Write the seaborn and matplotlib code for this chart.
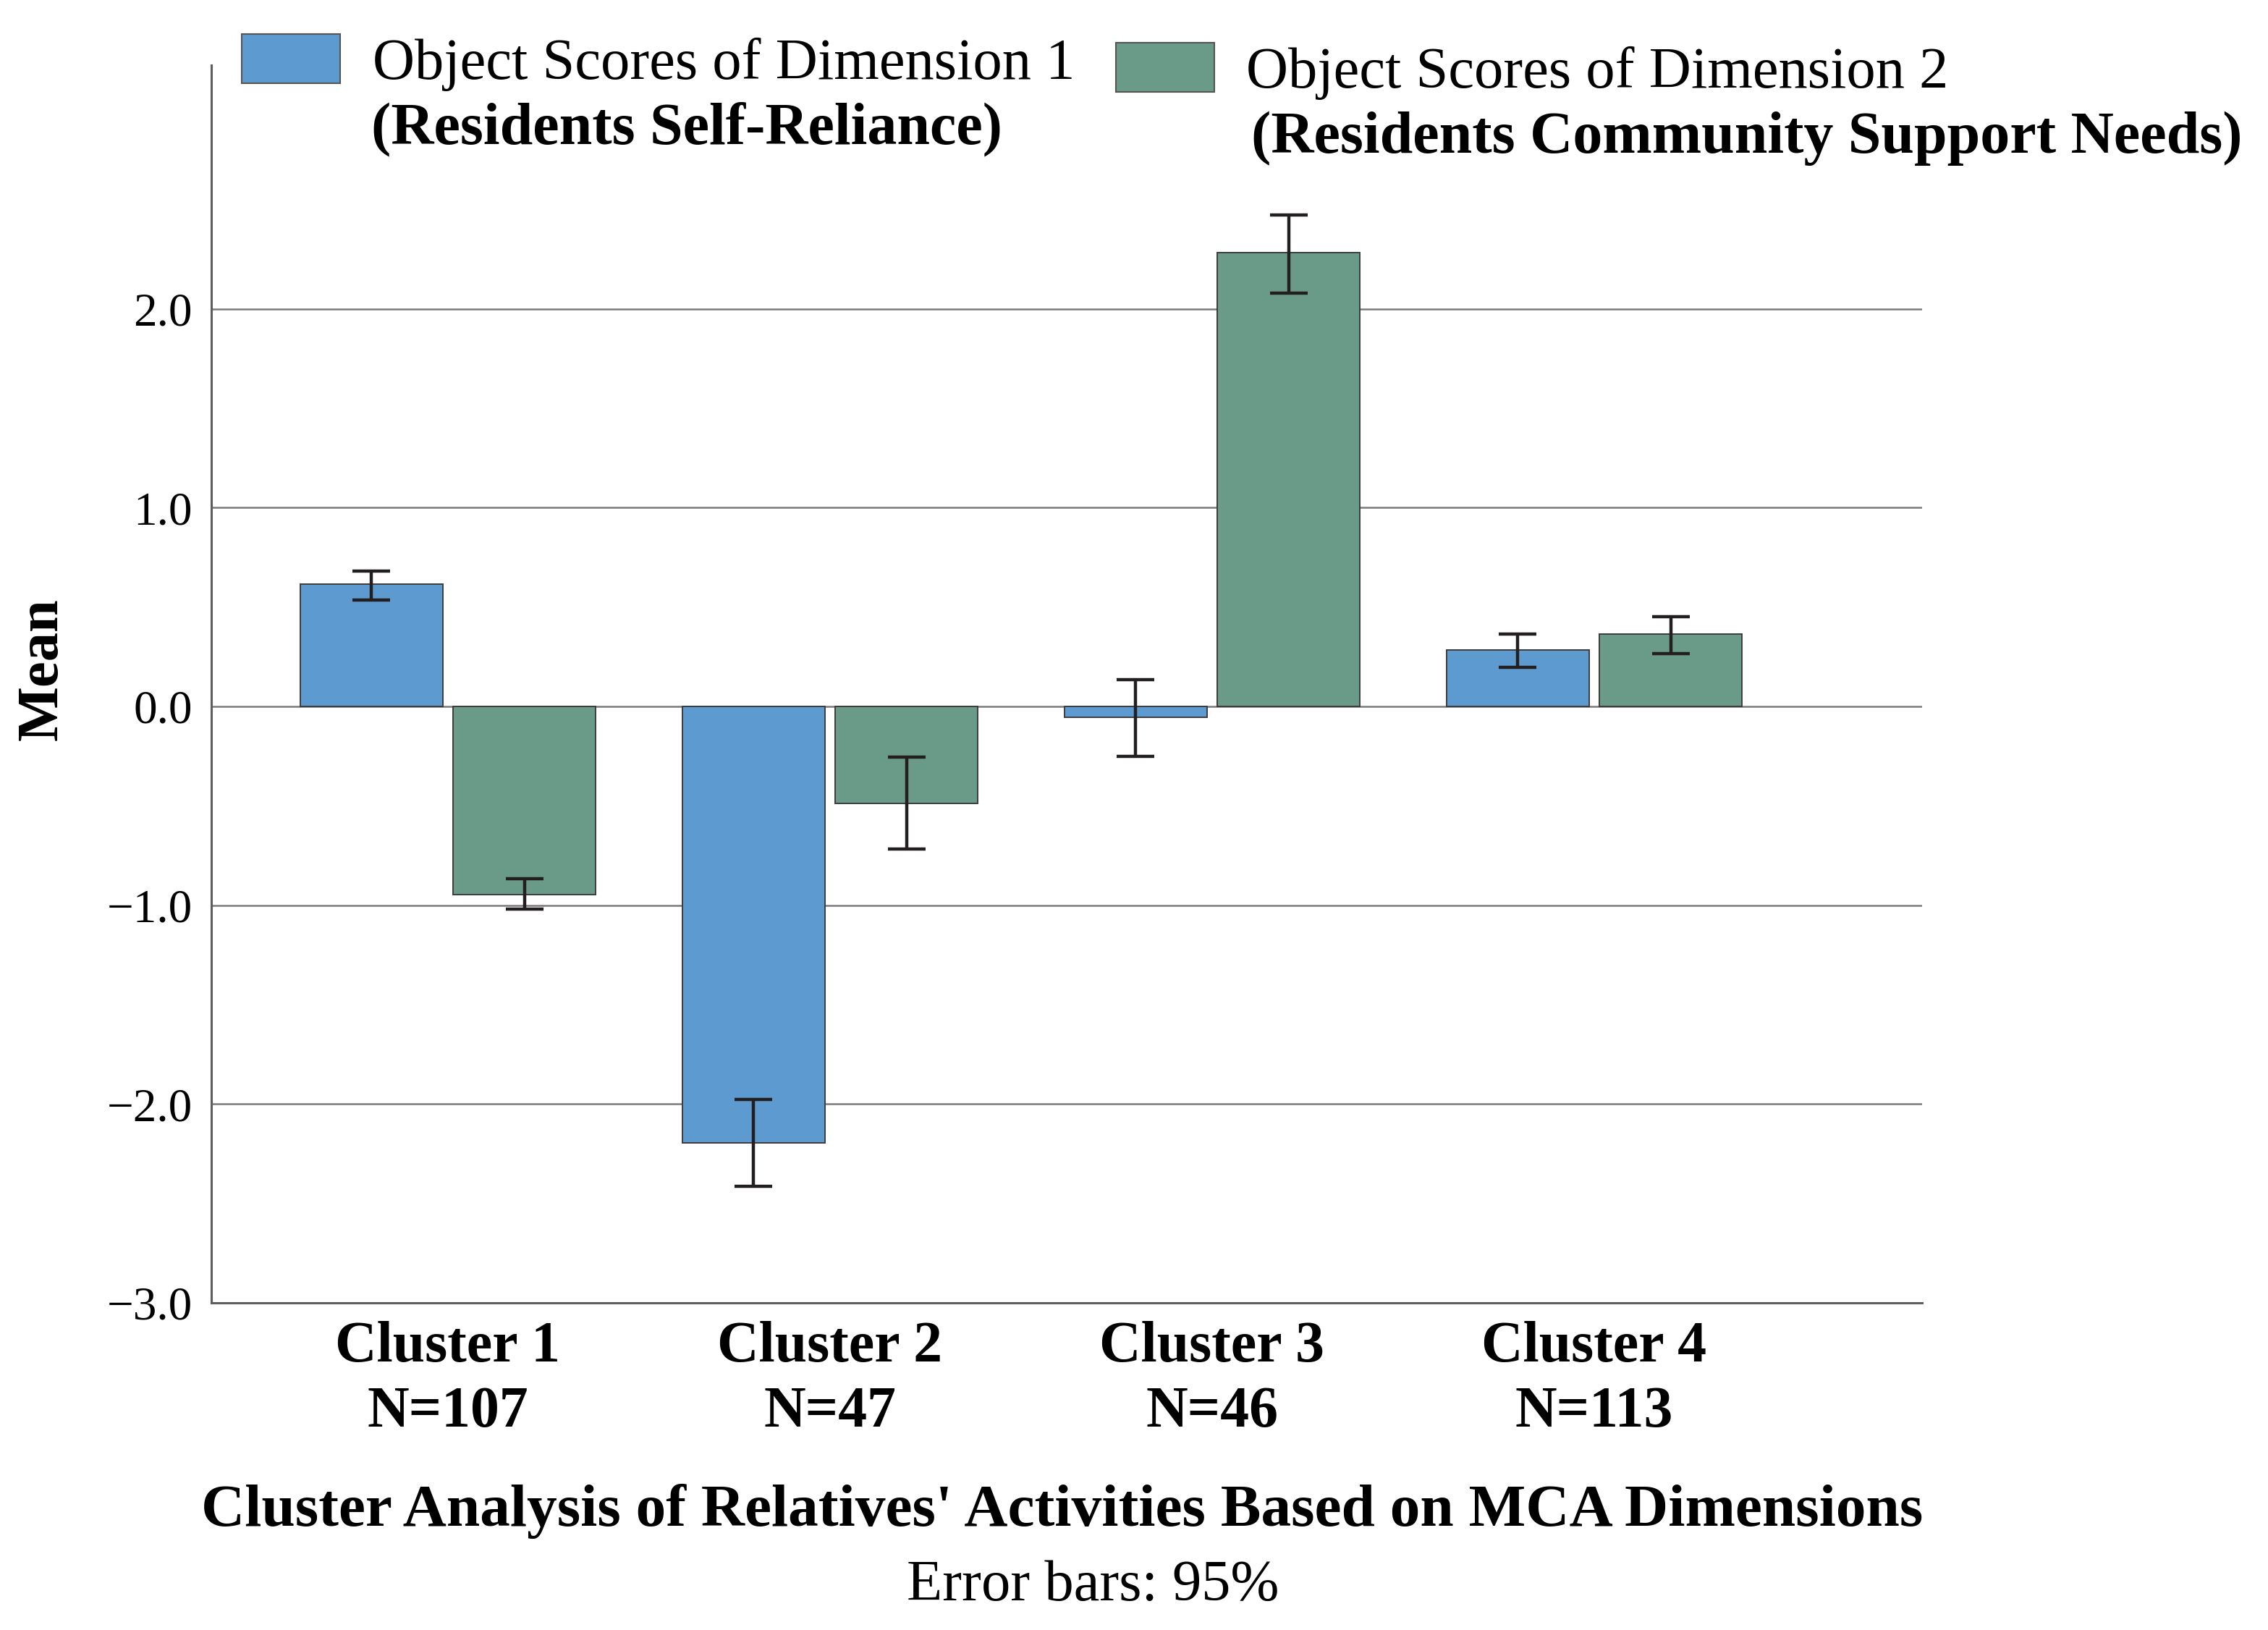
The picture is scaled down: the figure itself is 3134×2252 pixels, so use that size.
import matplotlib
matplotlib.use("Agg")
import matplotlib.pyplot as plt
import seaborn as sns
import pandas as pd
from matplotlib.patches import Patch
from matplotlib.container import BarContainer

# ---------------- data ----------------
clusters = ["Cluster 1", "Cluster 2", "Cluster 3", "Cluster 4"]
cluster_n = ["N=107", "N=47", "N=46", "N=113"]
series = ["Object Scores of Dimension 1", "Object Scores of Dimension 2"]
series_sub = ["(Residents Self-Reliance)", "(Residents Community Support Needs)"]

dim1_mean = [0.615, -2.195, -0.055, 0.284]
dim1_low = [0.536, -2.414, -0.253, 0.197]
dim1_high = [0.680, -1.976, 0.136, 0.364]

dim2_mean = [-0.948, -0.487, 2.283, 0.364]
dim2_low = [-1.020, -0.716, 2.077, 0.264]
dim2_high = [-0.867, -0.255, 2.470, 0.452]

yticks = [-3.0, -2.0, -1.0, 0.0, 1.0, 2.0]
title = "Cluster Analysis of Relatives' Activities Based on MCA Dimensions"
subtitle = "Error bars: 95%"
ylabel = "Mean"

colors = ["#5c9ad0", "#6a9a88"]

# ---------------- table ----------------
labels = [f"{c}\n{n}" for c, n in zip(clusters, cluster_n)]
means = [dim1_mean, dim2_mean]
lows = [dim1_low, dim2_low]
highs = [dim1_high, dim2_high]
rows = []
for s, m in zip(series, means):
    for lab, v in zip(labels, m):
        rows.append({"label": lab, "series": s, "mean": v})
df = pd.DataFrame(rows)

# ---------------- style ----------------
sns.set_style("white")
plt.rcParams["font.family"] = ["Liberation Serif", "DejaVu Serif"]
plt.rcParams["axes.unicode_minus"] = True
for key in ["text.color", "axes.labelcolor", "xtick.color", "ytick.color"]:
    plt.rcParams[key] = "black"

fig = plt.figure(figsize=(31.34, 22.52), dpi=100)
ax = fig.add_axes([0.0932, 0.2007, 0.7543, 0.7593])

sns.barplot(data=df, x="label", y="mean", hue="series", order=labels,
            hue_order=series, palette=colors, saturation=1, width=0.8, gap=0.07,
            errorbar=None, edgecolor="#3c3c3c", linewidth=1.4,
            legend=False, ax=ax, zorder=3)

bar_conts = [c for c in ax.containers if isinstance(c, BarContainer)]
for i, cont in enumerate(bar_conts):
    xs = [b.get_x() + b.get_width() / 2 for b in cont]
    m = means[i]
    yerr = [[mv - lv for mv, lv in zip(m, lows[i])],
            [hv - mv for mv, hv in zip(m, highs[i])]]
    ax.errorbar(xs, m, yerr=yerr, fmt="none", ecolor="#231f20",
                elinewidth=3.2, capsize=19, capthick=3.2, zorder=5)

ax.set_xlim(-0.619, 3.858)
ax.set_ylim(-3.0, 3.225)
ax.set_yticks(yticks, labels=[f"{v:.1f}".replace("-", "\u2212") for v in yticks])
ax.set_xticks(range(len(labels)))
ax.set_xticklabels(labels, fontsize=57.5, fontweight="bold", linespacing=1.3)
ax.tick_params(axis="y", length=0, pad=19, labelsize=47)
ax.tick_params(axis="x", length=0, pad=18)
ax.set_xlabel("")
ax.set_ylabel(ylabel, fontsize=58, fontweight="bold")
ax.yaxis.set_label_coords(-0.083, 0.512)

ax.set_axisbelow(True)
ax.yaxis.grid(True, color="#7a7a7a", linewidth=1.8)
ax.xaxis.grid(False)
for side in ["top", "right"]:
    ax.spines[side].set_visible(False)
for side in ["left", "bottom"]:
    ax.spines[side].set_color("#5e5e5e")
    ax.spines[side].set_linewidth(2.2)
    ax.spines[side].set_zorder(6)

# ---------------- legend ----------------
legend_pos = [(0.1066, 0.9618), (0.492, 0.9564)]
sub_pos = [(0.1638, 0.9205), (0.5518, 0.9150)]
for i, (lx, ly) in enumerate(legend_pos):
    leg = fig.legend(handles=[Patch(facecolor=colors[i], edgecolor="#555555", linewidth=1.5)],
                     labels=[series[i]], loc="center left", bbox_to_anchor=(lx, ly),
                     bbox_transform=fig.transFigure, frameon=False, borderpad=0,
                     borderaxespad=0, handlelength=1.69, handleheight=0.93,
                     handletextpad=0.55, fontsize=58)
    fig.text(sub_pos[i][0], sub_pos[i][1], series_sub[i], ha="left", va="center",
             fontsize=59, fontweight="bold")

fig.text(0.4684, 0.0730, title, ha="center", va="center", fontsize=60, fontweight="bold")
fig.text(0.4818, 0.0270, subtitle, ha="center", va="center", fontsize=58)

fig.savefig("out.png", dpi=100)
